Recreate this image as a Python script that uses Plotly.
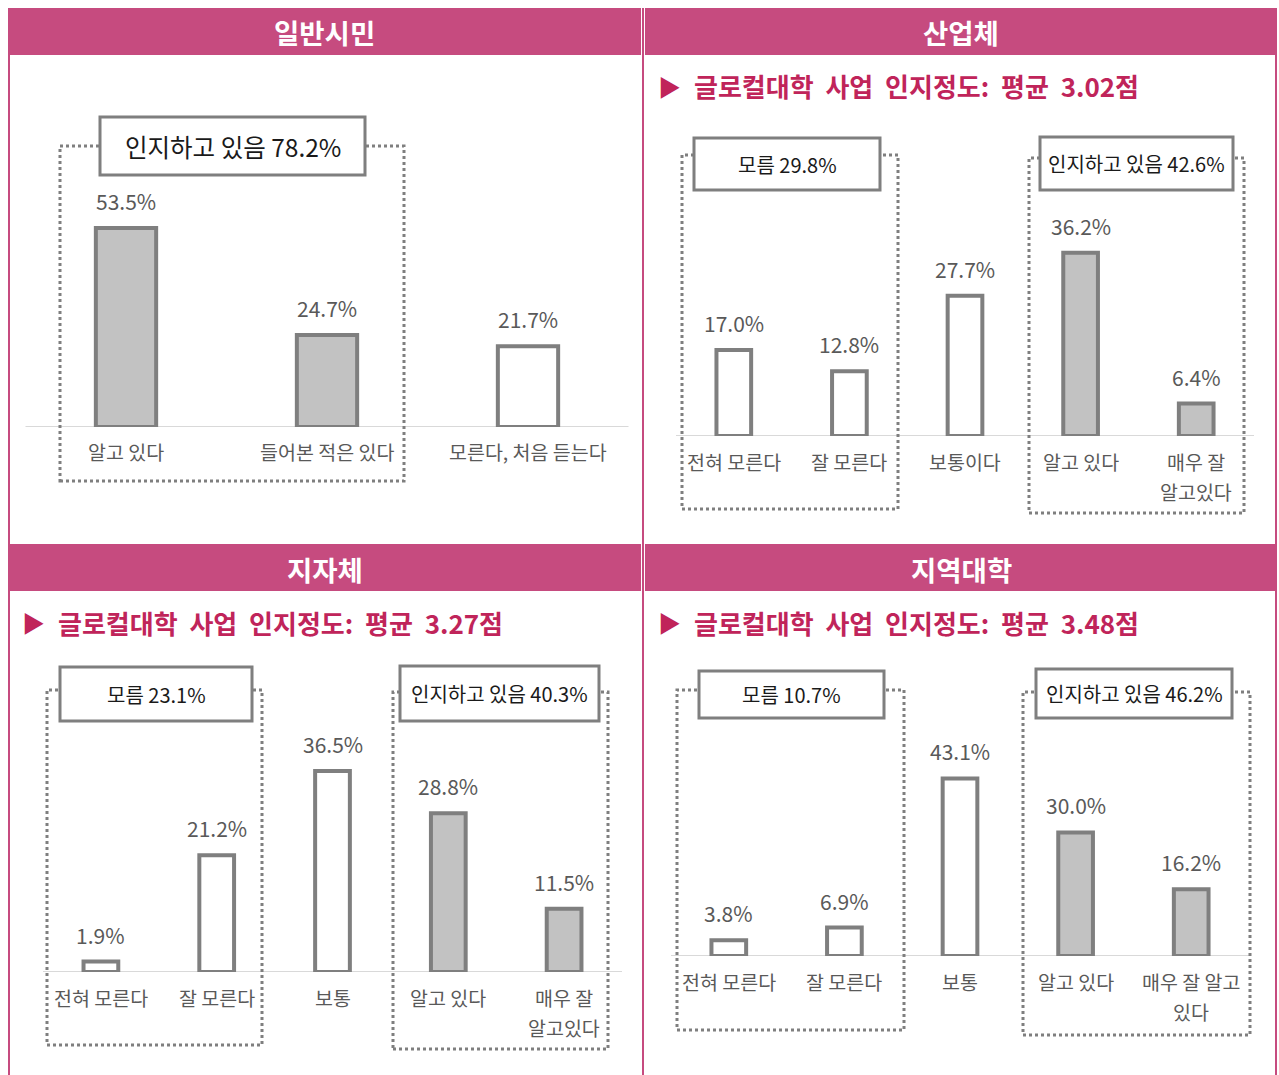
import plotly.graph_objects as go

OFF = 0
W, H = 1279, 1075

# ---------------- data ----------------
titles = ["일반시민", "산업체", "지자체", "지역대학"]
mean_scores = [None, 3.02, 3.27, 3.48]

cats_citizen = ["알고 있다", "들어본 적은 있다", "모른다, 처음 듣는다"]
vals_citizen = [53.5, 24.7, 21.7]

cats_industry = ["전혀 모른다", "잘 모른다", "보통이다", "알고 있다", "매우 잘<br>알고있다"]
vals_industry = [17.0, 12.8, 27.7, 36.2, 6.4]

cats_local = ["전혀 모른다", "잘 모른다", "보통", "알고 있다", "매우 잘<br>알고있다"]
vals_local = [1.9, 21.2, 36.5, 28.8, 11.5]

cats_univ = ["전혀 모른다", "잘 모른다", "보통", "알고 있다", "매우 잘 알고<br>있다"]
vals_univ = [3.8, 6.9, 43.1, 30.0, 16.2]

aware_pct = [78.2, 42.6, 40.3, 46.2]
unaware_pct = [None, 29.8, 23.1, 10.7]

aware_flags = [
    [True, True, False],
    [False, False, False, True, True],
    [False, False, False, True, True],
    [False, False, False, True, True],
]

# ---------------- styling / layout ----------------
PINK = "#c64b7f"
CRIMSON = "#c0245a"
GRAY = "#7f7f7f"
TXT = "#595959"
FONT = "Noto Sans CJK KR"


def px(x):
    return (x - OFF) / W


def py(y):
    return 1 - (y - OFF) / H


panel_cats = [cats_citizen, cats_industry, cats_local, cats_univ]
panel_vals = [vals_citizen, vals_industry, vals_local, vals_univ]

# pixel geometry (page pixels): x-domain, baseline, domain-top, px per %
geom = [
    dict(xd=(25.5, 628.5), base=427, top=100, scale=3.72),
    dict(xd=(676, 1254), base=436, top=200, scale=5.06),
    dict(xd=(43, 622), base=972, top=740, scale=5.51),
    dict(xd=(671, 1249), base=956, top=740, scale=4.12),
]

# (kind, dotted box, label box, font size) in page pixels
groups = [
    [("aware", (60, 146, 404, 481), (100, 117, 365, 175), 24.5)],
    [("unaware", (682, 155, 898, 509), (694, 138, 880, 190), 20),
     ("aware", (1029, 158, 1244, 513), (1040, 137, 1233, 190), 20)],
    [("unaware", (47, 690, 262, 1045), (60, 667, 252, 721), 20),
     ("aware", (393, 692, 608, 1049), (400, 666, 599, 721), 20)],
    [("unaware", (677, 690, 904, 1030), (699, 671, 884, 718), 20),
     ("aware", (1023, 692, 1250, 1035), (1036, 669, 1232, 718), 20)],
]

headers = [(8, 8, 641, 55), (645, 8, 1277, 55), (8, 544, 641, 591), (645, 544, 1277, 591)]
subtitle_pos = [None, (658, 86), (22, 622), (658, 622)]

fig = go.Figure()
shapes = []
annotations = []
layout_axes = {}

for i in range(4):
    g = geom[i]
    cats = panel_cats[i]
    vals = panel_vals[i]
    n = len(cats)
    xname = "x" if i == 0 else f"x{i+1}"
    yname = "y" if i == 0 else f"y{i+1}"
    xkey = "xaxis" if i == 0 else f"xaxis{i+1}"
    ykey = "yaxis" if i == 0 else f"yaxis{i+1}"
    ymax = (g["base"] - g["top"]) / g["scale"]

    colors = ["#e6e6e6" if f else "white" for f in aware_flags[i]]
    pshapes = ["." if f else "" for f in aware_flags[i]]
    fig.add_trace(go.Bar(
        x=list(range(n)), y=vals, width=0.3,
        xaxis=xname, yaxis=yname,
        marker=dict(color=colors, line=dict(color=GRAY, width=4),
                    pattern=dict(shape=pshapes, fillmode="overlay", fgcolor="#b3b3b3",
                                 size=2, solidity=0.5)),
        showlegend=False, hoverinfo="skip",
    ))
    layout_axes[xkey] = dict(
        domain=[px(g["xd"][0]), px(g["xd"][1])], anchor=yname,
        range=[-0.5, n - 0.5], showticklabels=False,
        showgrid=False, zeroline=False, showline=False, ticks="",
        fixedrange=True,
    )
    layout_axes[ykey] = dict(
        domain=[py(g["base"]), py(g["top"])], anchor=xname,
        range=[0, ymax], visible=False, fixedrange=True,
    )
    # baseline
    shapes.append(dict(type="line", xref=f"{xname} domain", yref=yname,
                       x0=0, x1=1, y0=0, y1=0, layer="below",
                       line=dict(color="#d9d9d9", width=2)))
    # category labels (one annotation per line for 30px line spacing)
    for k, c in enumerate(cats):
        for j, line in enumerate(c.split("<br>")):
            annotations.append(dict(x=k, y=0, xref=xname, yref=yname, text=line,
                                    showarrow=False, yanchor="middle", yshift=-25 - 30 * j,
                                    font=dict(family=FONT, size=19.5, color=TXT)))
    # value labels
    for k, v in enumerate(vals):
        annotations.append(dict(x=k, y=v, xref=xname, yref=yname, text=f"{v:.1f}%",
                                showarrow=False, yanchor="middle", yshift=27,
                                font=dict(family=FONT, size=21, color=TXT)))
    # group boxes
    for kind, dot, lab, fs in groups[i]:
        shapes.append(dict(type="rect", xref="paper", yref="paper",
                           x0=px(dot[0]), x1=px(dot[2]), y0=py(dot[3]), y1=py(dot[1]),
                           line=dict(color=GRAY, width=3, dash="dot"), layer="above"))
        shapes.append(dict(type="rect", xref="paper", yref="paper",
                           x0=px(lab[0]), x1=px(lab[2]), y0=py(lab[3]), y1=py(lab[1]),
                           line=dict(color=GRAY, width=3), fillcolor="white", layer="above"))
        pct = aware_pct[i] if kind == "aware" else unaware_pct[i]
        label = ("인지하고 있음 " if kind == "aware" else "모름 ") + f"{pct:.1f}%"
        annotations.append(dict(x=px((lab[0] + lab[2]) / 2), y=py((lab[1] + lab[3]) / 2),
                                xref="paper", yref="paper", text=label, showarrow=False,
                                xanchor="center", yanchor="middle",
                                font=dict(family=FONT, size=fs, color="#1a1a1a")))

# header bars and titles
for i, (x0, y0, x1, y1) in enumerate(headers):
    shapes.append(dict(type="rect", xref="paper", yref="paper",
                       x0=px(x0), x1=px(x1), y0=py(y1), y1=py(y0),
                       fillcolor=PINK, line=dict(width=0), layer="above"))
    annotations.append(dict(x=px((x0 + x1) / 2), y=py((y0 + y1) / 2 + 1), xref="paper", yref="paper",
                            text=f"<b>{titles[i]}</b>", showarrow=False,
                            xanchor="center", yanchor="middle",
                            font=dict(family=FONT, size=27.5, color="white")))

# frame lines
for xx in (9, 643, 1276):
    shapes.append(dict(type="line", xref="paper", yref="paper",
                       x0=px(xx), x1=px(xx), y0=py(1075), y1=py(8),
                       line=dict(color=PINK, width=2), layer="below"))

# subtitles
for i in range(1, 4):
    sx, sy = subtitle_pos[i]
    annotations.append(dict(x=px(sx - 2), y=py(sy), xref="paper", yref="paper",
                            text="▶", showarrow=False, xanchor="left", yanchor="middle",
                            font=dict(family=FONT, size=23, color=CRIMSON)))
    annotations.append(dict(x=px(sx + 34), y=py(sy), xref="paper", yref="paper",
                            text=f"<b>글로컬대학  사업  인지정도:  평균  {mean_scores[i]:.2f}점</b>",
                            showarrow=False, xanchor="left", yanchor="middle",
                            font=dict(family=FONT, size=26, color=CRIMSON)))

fig.update_layout(
    width=W, height=H, margin=dict(l=0, r=0, t=0, b=0),
    paper_bgcolor="white", plot_bgcolor="rgba(0,0,0,0)",
    shapes=shapes, annotations=annotations, bargap=0,
    font=dict(family=FONT), **layout_axes,
)

fig.write_html("out.html",
               config={"displayModeBar": False, "staticPlot": True},
               post_script="document.body.style.margin='0';document.body.style.overflow='hidden';")
